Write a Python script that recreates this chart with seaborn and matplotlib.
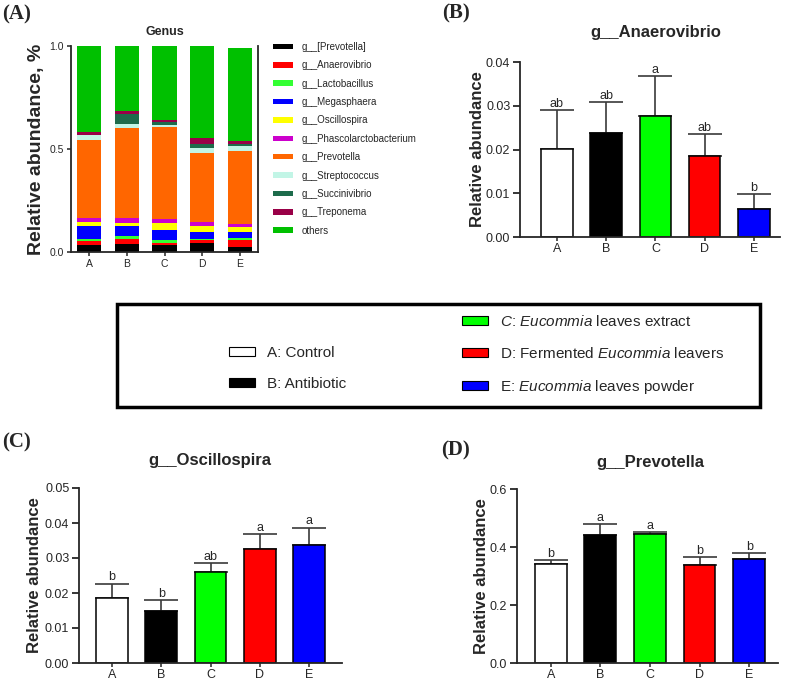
import numpy as np
import matplotlib
matplotlib.use('Agg')
import matplotlib.pyplot as plt
from matplotlib.patches import Patch, Rectangle
import seaborn as sns

# ---- data ----
groups = ['A', 'B', 'C', 'D', 'E']

# panel A: genus composition (stacked, bottom -> top)
genus_names = ['g__[Prevotella]', 'g__Anaerovibrio', 'g__Lactobacillus', 'g__Megasphaera',
               'g__Oscillospira', 'g__Phascolarctobacterium', 'g__Prevotella',
               'g__Streptococcus', 'g__Succinivibrio', 'g__Treponema', 'others']
prevotella_br = [0.035, 0.040, 0.035, 0.044, 0.026]
anaerovibrio_ab = [0.018, 0.023, 0.008, 0.013, 0.031]
lactobacillus_ab = [0.011, 0.016, 0.016, 0.008, 0.013]
megasphaera_ab = [0.063, 0.045, 0.048, 0.031, 0.027]
oscillospira_ab = [0.019, 0.018, 0.032, 0.032, 0.024]
phascolarcto_ab = [0.019, 0.021, 0.021, 0.016, 0.016]
prevotella_ab = [0.377, 0.440, 0.447, 0.335, 0.355]
streptococcus_ab = [0.024, 0.018, 0.011, 0.027, 0.024]
succinivibrio_ab = [0.003, 0.048, 0.013, 0.018, 0.008]
treponema_ab = [0.013, 0.016, 0.011, 0.029, 0.015]
others_ab = [0.418, 0.315, 0.356, 0.447, 0.452]
genus_colors = ['#000000', '#ff0000', '#33ff33', '#0000ff', '#ffff00', '#cc00cc',
                '#ff6600', '#c2f5e6', '#1d6b4b', '#990047', '#00c000']

# panel B: g__Anaerovibrio
anaero_mean = [0.0201, 0.0238, 0.0276, 0.0185, 0.0063]
anaero_err = [0.0090, 0.0070, 0.0093, 0.0050, 0.0035]
anaero_sig = ['ab', 'ab', 'a', 'ab', 'b']

# panel C: g__Oscillospira
oscil_mean = [0.0187, 0.0150, 0.0259, 0.0327, 0.0336]
oscil_err = [0.0040, 0.0031, 0.0027, 0.0041, 0.0051]
oscil_sig = ['b', 'b', 'ab', 'a', 'a']

# panel D: g__Prevotella
prev_mean = [0.341, 0.440, 0.444, 0.339, 0.358]
prev_err = [0.015, 0.038, 0.007, 0.025, 0.020]
prev_sig = ['b', 'a', 'a', 'b', 'b']

group_colors = ['#ffffff', '#000000', '#00ff00', '#ff0000', '#0000ff']
group_labels = ['A: Control', 'B: Antibiotic',
                r'$\it{C}$: $\it{Eucommia}$ leaves extract',
                r'D: Fermented $\it{Eucommia}$ leavers',
                r'E: $\it{Eucommia}$ leaves powder']

# ---- style ----
sns.set_style('ticks')
plt.rcParams['font.family'] = ['Liberation Sans', 'DejaVu Sans']
plt.rcParams['mathtext.fontset'] = 'custom'
plt.rcParams['mathtext.rm'] = 'Liberation Sans'
plt.rcParams['mathtext.it'] = 'Liberation Sans:italic'
plt.rcParams['axes.linewidth'] = 1.3

W, H = 788, 684
fig = plt.figure(figsize=(W / 100, H / 100), dpi=100)


def rect(l, t, r, b):
    return [l / W, 1 - b / H, (r - l) / W, (b - t) / H]


def ftext(x, y, s, **kw):
    fig.text(x / W, 1 - y / H, s, **kw)


# ---- panel A: stacked genus bars ----
axA = fig.add_axes(rect(71, 46, 258, 252))
stack = np.array([prevotella_br, anaerovibrio_ab, lactobacillus_ab, megasphaera_ab,
                  oscillospira_ab, phascolarcto_ab, prevotella_ab, streptococcus_ab,
                  succinivibrio_ab, treponema_ab, others_ab])
cum = np.cumsum(stack, axis=0)
# draw tallest first so each lower total sits on top of it
for j in range(len(genus_names) - 1, -1, -1):
    sns.barplot(x=groups, y=cum[j], color=genus_colors[j], saturation=1,
                width=0.64, linewidth=0, ax=axA)
axA.set_xlim(-0.48, 4.48)
axA.set_ylim(0, 1.0)
axA.set_yticks([0, 0.5, 1.0])
axA.set_yticklabels(['0.0', '0.5', '1.0'])
axA.tick_params(labelsize=7.5, length=3, width=1.1, pad=2)
axA.spines['top'].set_visible(False)
axA.set_ylabel('Relative abundance, %', fontsize=14, fontweight='bold')
axA.yaxis.set_label_coords(-0.14, 0.5)
ftext(165, 32, 'Genus', fontsize=9, fontweight='bold', ha='center', va='center')

handlesA = [Patch(facecolor=c, edgecolor='none') for c in genus_colors]
fig.legend(handlesA, genus_names, loc='upper left', bbox_to_anchor=(273 / W, 1 - 42 / H),
           frameon=False, fontsize=7, handlelength=2.1, handleheight=0.5,
           labelspacing=0.86, handletextpad=0.8, borderpad=0, borderaxespad=0)


# ---- bar panels B, C, D ----
def group_bars(ax, means, errs, sig, ylim, ticks, fmt, xlim):
    sns.barplot(x=groups, y=means, hue=groups, palette=group_colors, saturation=1,
                width=0.64, edgecolor='black', linewidth=1.1, legend=False, ax=ax)
    ax.errorbar(range(len(groups)), means, yerr=[np.zeros(len(means)), errs], fmt='none',
                ecolor='#3a3a3a', elinewidth=1.2, capsize=12, capthick=1.2, zorder=0.5)
    for i, s in enumerate(sig):
        ax.annotate(s, (i, means[i] + errs[i]), xytext=(0, 2.2), textcoords='offset points',
                    ha='center', va='baseline', fontsize=9)
    ax.set_xlim(*xlim)
    ax.set_ylim(*ylim)
    ax.set_yticks(ticks)
    ax.set_yticklabels([fmt.format(t) for t in ticks])
    ax.tick_params(axis='y', labelsize=9, length=5, width=1.3, pad=2)
    ax.tick_params(axis='x', labelsize=9, length=3, width=1.1, pad=1.5)
    sns.despine(ax=ax)
    ax.set_ylabel('Relative abundance', fontsize=12, fontweight='bold')


axB = fig.add_axes(rect(520, 62, 780, 237))
group_bars(axB, anaero_mean, anaero_err, anaero_sig, (0, 0.04),
           [0, 0.01, 0.02, 0.03, 0.04], '{:.2f}', (-0.75, 4.53))
axB.yaxis.set_label_coords(-0.135, 0.5)
ftext(656, 33, 'g__Anaerovibrio', fontsize=12, fontweight='bold', ha='center', va='center')

axC = fig.add_axes(rect(79, 488, 342, 663))
group_bars(axC, oscil_mean, oscil_err, oscil_sig, (0, 0.05),
           [0, 0.01, 0.02, 0.03, 0.04, 0.05], '{:.2f}', (-0.67, 4.67))
axC.yaxis.set_label_coords(-0.141, 0.5)
ftext(210, 460, 'g__Oscillospira', fontsize=12, fontweight='bold', ha='center', va='center')

axD = fig.add_axes(rect(517, 489, 778, 663))
group_bars(axD, prev_mean, prev_err, prev_sig, (0, 0.6),
           [0, 0.2, 0.4, 0.6], '{:.1f}', (-0.68, 4.58))
axD.yaxis.set_label_coords(-0.107, 0.5)
ftext(650, 462, 'g__Prevotella', fontsize=12, fontweight='bold', ha='center', va='center')

# ---- panel letters ----
for x, y, s in [(2, 14, '(A)'), (442, 13, '(B)'), (2, 442, '(C)'), (441, 450, '(D)')]:
    ftext(x, y, s, fontsize=15, fontweight='bold', family='Liberation Serif',
          ha='left', va='center')

# ---- group legend box ----
fig.patches.append(Rectangle((117 / W, 1 - 407 / H), (760 - 117) / W, (407 - 304) / H,
                             transform=fig.transFigure, fill=False, edgecolor='black',
                             linewidth=2.5))
gh = [Patch(facecolor=c, edgecolor='black', linewidth=0.8) for c in group_colors]
legkw = dict(loc='upper left', frameon=False, fontsize=11, handlelength=1.7,
             handleheight=0.5, labelspacing=1.1, handletextpad=0.8, borderpad=0,
             borderaxespad=0)
fig.legend(gh[:2], group_labels[:2], bbox_to_anchor=(229 / W, 1 - 346 / H), **legkw)
fig.legend(gh[2:], group_labels[2:], bbox_to_anchor=(462 / W, 1 - 314 / H), **legkw)

fig.savefig('out.png', dpi=100)
